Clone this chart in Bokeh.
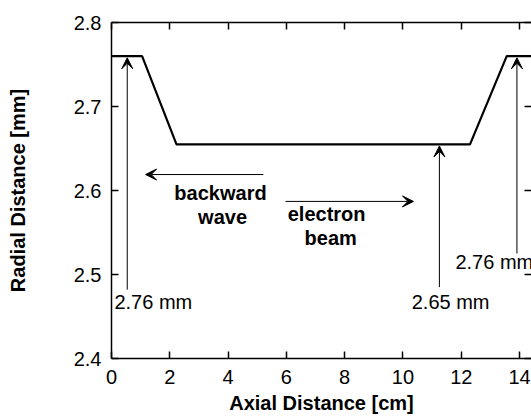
from bokeh.plotting import figure
from bokeh.models import LinearAxis, Arrow, VeeHead, ColumnDataSource, FixedTicker
from bokeh.core.properties import value
from bokeh.embed import file_html
from bokeh.resources import INLINE

# ---- data ----
axial_cm = [0.0, 1.05, 2.23, 12.30, 13.56, 14.6]
radial_mm = [2.76, 2.76, 2.655, 2.655, 2.76, 2.76]
x_ticks = [0, 2, 4, 6, 8, 10, 12, 14]
y_ticks = [2.4, 2.5, 2.6, 2.7, 2.8]

marker_x = [0.54, 11.25, 13.91]
marker_tip = [2.758, 2.653, 2.758]
marker_base = [2.482, 2.485, 2.525]
marker_text = ["2.76 mm", "2.65 mm", "2.76 mm"]
marker_text_x = [0.10, 10.30, 11.80]
marker_text_y = [2.4667, 2.4667, 2.5143]

dir_x_start = [5.21, 5.97]
dir_x_end = [1.17, 10.36]
dir_y = [2.619, 2.587]
dir_text = ["backward", "wave", "electron", "beam"]
dir_text_x = [3.74, 3.81, 7.38, 7.52]
dir_text_y = [2.5976, 2.5679, 2.5726, 2.544]

FONT = "Liberation Sans"

p = figure(width=531, height=416, x_range=(0, 14.41), y_range=(2.4, 2.8),
           output_backend="svg", toolbar_location=None,
           min_border_left=111, min_border_right=0, min_border_top=22, min_border_bottom=58)
p.outline_line_color = None
p.xgrid.grid_line_color = None
p.ygrid.grid_line_color = None
p.background_fill_color = "white"
p.border_fill_color = "white"

def style(ax, labels=True):
    ax.axis_line_width = 1.5
    ax.major_tick_line_width = 1.5
    ax.major_tick_in = 7
    ax.major_tick_out = 0
    ax.minor_tick_in = 0
    ax.minor_tick_out = 0
    ax.major_label_text_font = FONT
    ax.major_label_text_font_size = "20px" if labels else "1px"
    ax.major_label_text_color = "black"
    ax.axis_label_text_font = FONT
    ax.axis_label_text_font_style = "bold"
    ax.axis_label_text_font_size = "20px"
    ax.axis_label_text_color = "black"

p.xaxis.ticker = FixedTicker(ticks=x_ticks)
p.yaxis.ticker = FixedTicker(ticks=y_ticks)
p.yaxis.formatter.use_scientific = False
style(p.xaxis[0])
style(p.yaxis[0])
p.xaxis.axis_label = "Axial Distance [cm]"
p.yaxis.axis_label = "Radial Distance [mm]"
p.xaxis.major_label_standoff = 11
p.xaxis.axis_label_standoff = 5
p.yaxis.major_label_standoff = 10
p.yaxis.axis_label_standoff = 42

top = LinearAxis(ticker=FixedTicker(ticks=x_ticks),
                 major_label_overrides={t: "" for t in x_ticks})
style(top, labels=False)
top.major_label_standoff = 0
p.add_layout(top, "above")

right = LinearAxis(ticker=FixedTicker(ticks=y_ticks),
                   major_label_overrides={t: "" for t in y_ticks})
style(right, labels=False)
right.major_label_standoff = 0
right.axis_line_color = None
p.add_layout(right, "right")

# profile
p.line(axial_cm, radial_mm, line_color="black", line_width=2.2)

# radius marker arrows
msrc = ColumnDataSource(dict(x=marker_x, y0=marker_base, y1=marker_tip))
p.add_layout(Arrow(end=VeeHead(size=11, fill_color="black", line_color="black", line_width=1),
                   x_start="x", y_start="y0", x_end="x", y_end="y1", source=msrc,
                   line_color="black", line_width=1))
p.text(marker_text_x, marker_text_y, text=marker_text, text_font=value(FONT),
       text_font_size="20px", text_align="left", text_baseline="middle", text_color="black")

# direction arrows
dsrc = ColumnDataSource(dict(x0=dir_x_start, x1=dir_x_end, y=dir_y))
p.add_layout(Arrow(end=VeeHead(size=11, fill_color="black", line_color="black", line_width=1),
                   x_start="x0", y_start="y", x_end="x1", y_end="y", source=dsrc,
                   line_color="black", line_width=1))
p.text(dir_text_x, dir_text_y, text=dir_text, text_font=value(FONT),
       text_font_size="20px", text_font_style="bold", text_align="center",
       text_baseline="middle", text_color="black")

open("out.html", "w").write(file_html(p, INLINE))
